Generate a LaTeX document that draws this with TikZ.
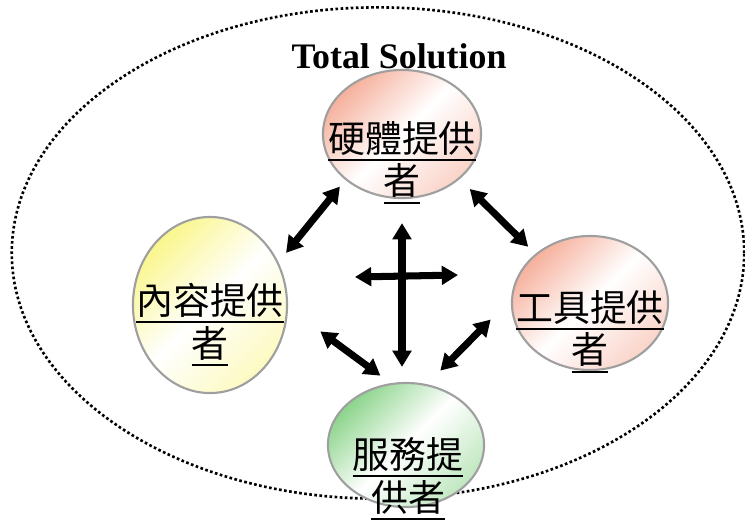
\documentclass[tikz,border=0pt]{standalone}
\usepackage{fontspec}
\setmainfont{Liberation Serif}
\newfontfamily\cjk{Noto Sans CJK TC}
\usetikzlibrary{arrows.meta,shapes.geometric}

\definecolor{salmon}{RGB}{246,176,156}
\definecolor{lemon}{RGB}{250,246,140}
\definecolor{leaf}{RGB}{140,212,140}

\begin{document}
\begin{tikzpicture}[
  x=0.01cm, y=-0.01cm,
  role/.style={ellipse, draw=gray!75, line width=0.6pt, inner sep=0pt},
  tint/.style={top color=#1, bottom color=#1!55!white, middle color=white, shading angle=45},
  lbl/.style={align=center, inner sep=1pt, font=\cjk\fontsize{10.5}{12.2}\selectfont},
  dbl/.style={{Triangle[length=4.6pt,width=5.2pt]}-{Triangle[length=4.6pt,width=5.2pt]}, line width=2pt},
]
\useasboundingbox (0,0) rectangle (745,520);

% outer boundary
\node [ellipse, draw, dash pattern=on 0.75pt off 0.7pt, line width=0.75pt, inner sep=0pt,
  minimum width=7.32cm, minimum height=4.91cm] (sol) at (378,253) {};

% the four roles
\node [role, tint=salmon, minimum width=1.58cm, minimum height=1.28cm] (hw) at (402,134) {};
\node [role, tint=lemon, minimum width=1.54cm, minimum height=1.76cm] (ct) at (210,305) {};
\node [role, tint=salmon, minimum width=1.56cm, minimum height=1.34cm] (tl) at (590,303) {};
\node [role, tint=leaf, minimum width=1.56cm, minimum height=1.24cm] (sv) at (406,445) {};

\node [lbl] (hwt) at (402,163) {\underline{硬體提供}\\\underline{者}};
\node [lbl] (ctt) at (210,325) {\underline{內容提供}\\\underline{者}};
\node [lbl] (tlt) at (590,332) {\underline{工具提供}\\\underline{者}};
\node [lbl] (svt) at (408,479) {\underline{服務提}\\\underline{供者}};

\node [font=\bfseries\fontsize{10.2}{12}\selectfont] (title) at (399,56) {Total Solution};

% links
\draw [dbl, shorten <=0.085cm, shorten >=0.12cm] (hw.219) -- (ct.32);
\draw [dbl, shorten <=0.14cm, shorten >=0.10cm] (hw.322) -- (tl.138);
\draw [dbl, shorten <=0.40cm, shorten >=0.126cm] (ct.358) -- (sv.104);
\draw [dbl, shorten <=0.29cm, shorten >=0.19cm] (tl.177) -- (sv.71);
\draw [dbl, shorten <=0.24cm, shorten >=0.15cm] (hw.south) -- (hw.south |- sv.north);

\coordinate (crossW) at (355,277);
\coordinate (crossE) at (458,275);
\draw [dbl] (crossW) -- (crossE);

\end{tikzpicture}
\end{document}
